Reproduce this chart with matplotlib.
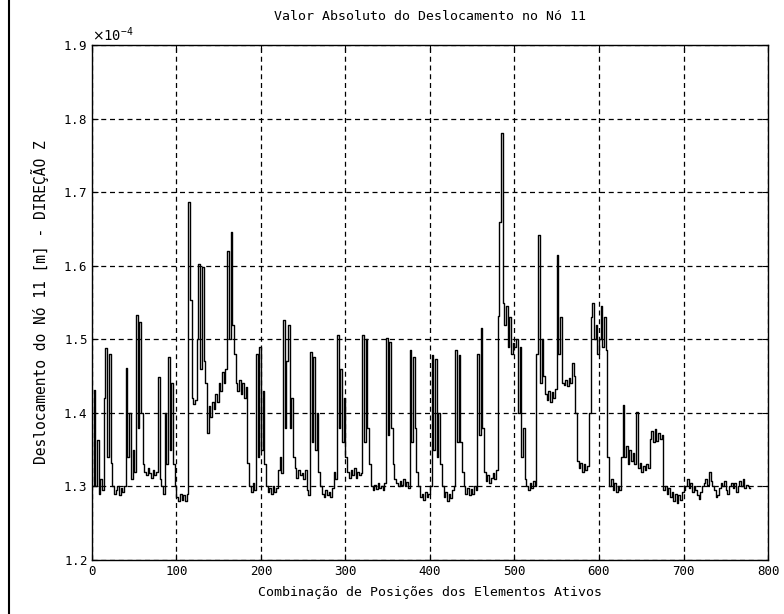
import numpy as np
import matplotlib
matplotlib.use("Agg")
import matplotlib.pyplot as plt
from matplotlib.lines import Line2D
from matplotlib.ticker import ScalarFormatter

plt.rcParams["font.family"] = ["DejaVu Sans Mono", "DejaVu Sans"]

# deslocamento (x 1e-4 m), lido a cada 2 combinações: 1, 3, 5, ..., 779
seg_000 = [1.300, 1.431, 1.300, 1.363, 1.290, 1.310, 1.295, 1.420, 1.488, 1.340,
           1.480, 1.332, 1.300, 1.290, 1.295, 1.300, 1.288, 1.298, 1.292, 1.300,
           1.461, 1.340, 1.400, 1.310, 1.350, 1.320, 1.533, 1.380, 1.524, 1.400,
           1.330, 1.320, 1.315, 1.325, 1.318, 1.312, 1.322, 1.316, 1.320, 1.449,
           1.310, 1.300, 1.290, 1.400, 1.330, 1.476, 1.350, 1.440, 1.330, 1.300]
seg_100 = [1.285, 1.280, 1.290, 1.282, 1.288, 1.280, 1.290, 1.687, 1.553, 1.420,
           1.412, 1.418, 1.500, 1.603, 1.460, 1.598, 1.470, 1.440, 1.373, 1.410,
           1.395, 1.415, 1.405, 1.425, 1.415, 1.440, 1.430, 1.455, 1.440, 1.460,
           1.620, 1.500, 1.646, 1.520, 1.480, 1.440, 1.430, 1.445, 1.425, 1.440,
           1.420, 1.435, 1.332, 1.300, 1.292, 1.305, 1.295, 1.480, 1.340, 1.490]
seg_200 = [1.350, 1.430, 1.330, 1.300, 1.292, 1.298, 1.290, 1.300, 1.293, 1.298,
           1.323, 1.340, 1.318, 1.526, 1.380, 1.470, 1.519, 1.380, 1.420, 1.340,
           1.325, 1.312, 1.322, 1.315, 1.318, 1.310, 1.322, 1.295, 1.288, 1.483,
           1.360, 1.476, 1.350, 1.400, 1.320, 1.300, 1.290, 1.285, 1.295, 1.288,
           1.292, 1.285, 1.298, 1.320, 1.310, 1.506, 1.380, 1.460, 1.360, 1.420]
seg_300 = [1.340, 1.320, 1.312, 1.322, 1.315, 1.325, 1.312, 1.320, 1.315, 1.318,
           1.506, 1.360, 1.500, 1.380, 1.330, 1.300, 1.295, 1.302, 1.296, 1.305,
           1.298, 1.300, 1.295, 1.305, 1.502, 1.370, 1.497, 1.380, 1.330, 1.310,
           1.305, 1.300, 1.308, 1.302, 1.310, 1.300, 1.306, 1.298, 1.486, 1.360,
           1.476, 1.380, 1.320, 1.300, 1.285, 1.290, 1.282, 1.292, 1.285, 1.290]
seg_400 = [1.300, 1.479, 1.350, 1.473, 1.340, 1.400, 1.330, 1.300, 1.285, 1.292,
           1.280, 1.290, 1.284, 1.295, 1.300, 1.486, 1.360, 1.478, 1.360, 1.320,
           1.300, 1.290, 1.298, 1.288, 1.296, 1.290, 1.300, 1.295, 1.480, 1.370,
           1.515, 1.380, 1.320, 1.308, 1.315, 1.305, 1.312, 1.318, 1.310, 1.322,
           1.531, 1.660, 1.780, 1.550, 1.520, 1.545, 1.490, 1.530, 1.480, 1.495]
seg_500 = [1.490, 1.500, 1.400, 1.490, 1.340, 1.380, 1.310, 1.300, 1.295, 1.305,
           1.298, 1.308, 1.300, 1.480, 1.642, 1.440, 1.500, 1.450, 1.425, 1.418,
           1.430, 1.415, 1.428, 1.420, 1.432, 1.615, 1.480, 1.530, 1.440, 1.438,
           1.445, 1.436, 1.448, 1.440, 1.468, 1.450, 1.400, 1.335, 1.325, 1.332,
           1.320, 1.330, 1.322, 1.328, 1.400, 1.530, 1.549, 1.500, 1.520, 1.480]
seg_600 = [1.500, 1.545, 1.490, 1.530, 1.485, 1.340, 1.300, 1.310, 1.295, 1.305,
           1.293, 1.300, 1.295, 1.340, 1.411, 1.340, 1.355, 1.330, 1.350, 1.335,
           1.345, 1.330, 1.401, 1.325, 1.332, 1.320, 1.328, 1.322, 1.330, 1.325,
           1.365, 1.375, 1.360, 1.378, 1.362, 1.372, 1.365, 1.370, 1.295, 1.300,
           1.290, 1.298, 1.285, 1.292, 1.280, 1.290, 1.278, 1.288, 1.282, 1.292]
seg_700 = [1.295, 1.300, 1.310, 1.298, 1.305, 1.292, 1.300, 1.295, 1.288, 1.283,
           1.292, 1.300, 1.305, 1.310, 1.302, 1.320, 1.308, 1.300, 1.295, 1.285,
           1.288, 1.298, 1.305, 1.300, 1.308, 1.295, 1.290, 1.300, 1.305, 1.298,
           1.305, 1.292, 1.300, 1.308, 1.300, 1.310, 1.298, 1.302, 1.300, 1.298]

desloc = np.array(seg_000 + seg_100 + seg_200 + seg_300 + seg_400 + seg_500 + seg_600 + seg_700) * 1e-4
comb = np.arange(1, 780, 2)

fig = plt.figure(figsize=(7.84, 6.14), dpi=100)
ax = fig.add_axes([0.1173, 0.0879, 0.8623, 0.8388])
ax.plot(comb, desloc, color="black", linewidth=1.0, drawstyle="steps-mid")

ax.set_xlim(0, 800)
ax.set_ylim(1.2e-4, 1.9e-4)
ax.set_xticks(np.arange(0, 801, 100))
ax.set_yticks(np.arange(1.2e-4, 1.91e-4, 0.1e-4))
fmt = ScalarFormatter(useMathText=True)
fmt.set_powerlimits((0, 0))
ax.yaxis.set_major_formatter(fmt)
ax.grid(True, color="black", linestyle=(0, (4, 3)), linewidth=0.9)
ax.tick_params(direction="in", top=True, right=True, length=4, labelsize=9, colors="black")
for s in ax.spines.values():
    s.set_linewidth(1.0)

ax.set_title("Valor Absoluto do Deslocamento no Nó 11", fontsize=9.5, pad=18)
ax.set_xlabel("Combinação de Posições dos Elementos Ativos", fontsize=9.5, labelpad=6)
ax.set_ylabel("Deslocamento do Nó 11 [m] - DIREÇÃO Z", fontsize=10.5, labelpad=10)
ax.yaxis.get_offset_text().set_fontsize(10)

# borda vertical à esquerda da figura
fig.add_artist(Line2D([0.012, 0.012], [0, 1], transform=fig.transFigure, color="black", linewidth=1.5))

fig.savefig("out.png", dpi=100)
